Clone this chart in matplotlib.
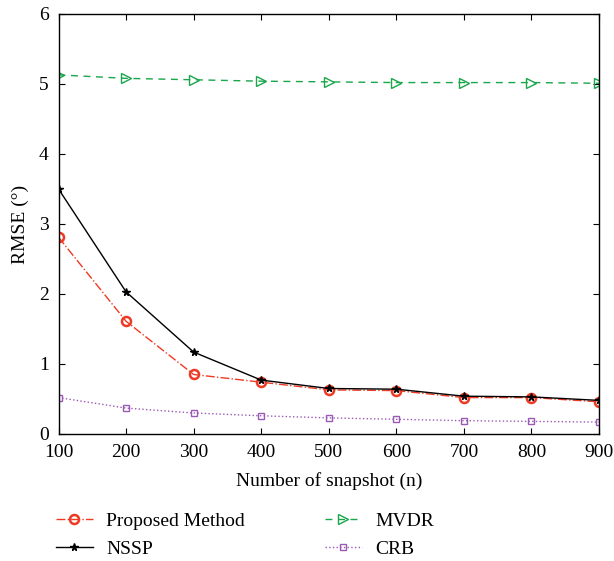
import matplotlib
matplotlib.use("Agg")
import matplotlib.pyplot as plt

plt.rcParams['font.family'] = ['Liberation Serif', 'DejaVu Serif']

snapshots = [100, 200, 300, 400, 500, 600, 700, 800, 900]
proposed = [2.81, 1.61, 0.85, 0.74, 0.63, 0.62, 0.52, 0.52, 0.46]
nssp = [3.50, 2.03, 1.17, 0.77, 0.65, 0.64, 0.54, 0.53, 0.48]
mvdr = [5.13, 5.08, 5.06, 5.04, 5.03, 5.02, 5.02, 5.02, 5.01]
crb = [0.52, 0.37, 0.30, 0.26, 0.23, 0.21, 0.19, 0.18, 0.17]

red = '#ee3a24'
green = '#1aa64a'
purple = '#9b59b6'

fig = plt.figure(figsize=(6.14, 5.61), dpi=100)
ax = fig.add_axes([0.0953, 0.2264, 0.8803, 0.7487])

ax.plot(snapshots, proposed, color=red, linestyle='-.', marker='o', markersize=6.5,
        markerfacecolor='none', markeredgewidth=1.8, linewidth=1.0, label='Proposed Method')
ax.plot(snapshots, nssp, color='black', linestyle='-', marker='*', markersize=5.5,
        linewidth=1.0, label='NSSP')
ax.plot(snapshots, mvdr, color=green, linestyle=(0, (5, 4)), marker='>', markersize=6.5,
        markerfacecolor='none', markeredgewidth=1.0, linewidth=1.0, label='MVDR')
ax.plot(snapshots, crb, color=purple, linestyle=':', marker='s', markersize=4.5,
        markerfacecolor='none', markeredgewidth=1.0, linewidth=1.0, label='CRB')

ax.set_xlim(100, 900)
ax.set_ylim(0, 6)
ax.set_xticks(snapshots)
ax.set_yticks(range(7))
ax.tick_params(direction='in', top=True, right=True, labelsize=14, length=4, pad=7)
for s in ax.spines.values():
    s.set_linewidth(1.0)
ax.set_xlabel('Number of snapshot (n)', fontsize=14, labelpad=8)
ax.set_ylabel('RMSE (°)', fontsize=14, labelpad=7)

handles, labels = ax.get_legend_handles_labels()
fig.legend(handles, labels, ncol=2, frameon=False, fontsize=14,
           loc='upper left', bbox_to_anchor=(0.091, 0.087), columnspacing=4.1,
           handlelength=1.9, handletextpad=0.7, labelspacing=0.55,
           borderaxespad=0, borderpad=0)

fig.savefig('out.png', dpi=100)
